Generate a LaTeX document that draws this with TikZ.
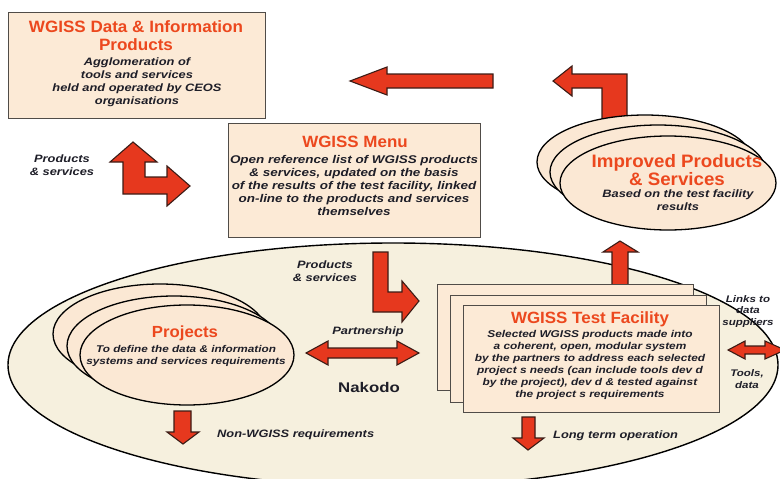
\documentclass[tikz,border=0pt]{standalone}
\usepackage{fontspec}
\setmainfont{Liberation Sans}
\newfontfamily\ttlfont{Liberation Sans}[FakeStretch=1.04]
\newfontfamily\bodyfont{Liberation Sans}[FakeStretch=1.2]

\definecolor{titlecol}{RGB}{236,72,30}
\definecolor{arrowred}{RGB}{230,56,30}
\definecolor{arrowedge}{RGB}{60,28,22}
\definecolor{panelfill}{RGB}{252,234,214}
\definecolor{paneledge}{RGB}{80,76,72}
\definecolor{ovalfill}{RGB}{251,232,212}
\definecolor{zonefill}{RGB}{246,240,222}
\definecolor{txtcol}{RGB}{30,30,40}

% text nodes are anchored on the baseline of their last line
\tikzset{
  ttl/.style={font={\ttlfont\bfseries\fontsize{#1}{18}\selectfont}, text=titlecol,
              align=center, inner sep=0pt, anchor=base},
  body/.style 2 args={font={\bodyfont\bfseries\itshape\fontsize{#1}{#2}\selectfont},
              text=txtcol, align=center, inner sep=0pt, anchor=base},
  blockarrow/.style={fill=arrowred, draw=arrowedge, line width=1.1pt, line join=miter},
  panel/.style={fill=panelfill, draw=paneledge, line width=0.9pt},
  oval/.style={fill=ovalfill, draw=black, line width=1.3pt},
  zone/.style={fill=zonefill, draw=black, line width=1.4pt},
}

\begin{document}
\begin{tikzpicture}[x=1pt,y=-1pt]
\useasboundingbox (0,0) rectangle (780,479);
\clip (0,0) rectangle (780,479);

% Nakodo zone
\draw[zone] (393,365) ellipse [x radius=385, y radius=122];

% arrows passing behind the improved products and the test facility
\draw[blockarrow] (553,81) -- (572,66) -- (572,74) -- (627,74) -- (627,140)
  -- (602,140) -- (602,88) -- (572,88) -- (572,96) -- cycle;
\draw[blockarrow] (612,292) -- (612,252) -- (603,252) -- (620,241) -- (638,252)
  -- (628,252) -- (628,292) -- cycle;

% improved products and services
\draw[oval] (645,162) ellipse [x radius=108, y radius=47];
\draw[oval] (658,172) ellipse [x radius=108, y radius=47];
\draw[oval] (668,183) ellipse [x radius=108, y radius=47];
\node[ttl=18] (impT) at (677,185) {Improved Products\\\& Services};
\node[body={10.7}{13}] (impB) at (678,210) {Based on the test facility\\results};

% test facility
\draw[panel] (437,284) rectangle (693,390);
\draw[panel] (450,295) rectangle (706,402);
\node[panel, minimum width=256pt, minimum height=107pt] (tf) at (591,358.5) {};
\node[ttl=16.3] (tfT) at (590,323) {WGISS Test Facility};
\node[body={9.9}{12}] (tfB) at (590,397) {Selected WGISS products made into\\
  a coherent, open, modular system\\
  by the partners to address each selected\\
  project s needs (can include tools dev d\\
  by the project), dev d \& tested against\\
  the project s requirements};

% projects
\draw[oval] (160,334) ellipse [x radius=107, y radius=50];
\draw[oval] (174,346) ellipse [x radius=107, y radius=50];
\draw[oval] (187,355) ellipse [x radius=107, y radius=50];
\node[ttl=16.1] (prT) at (185,337) {Projects};
\node[body={9.8}{12}] (prB) at (186,364) {To define the data \&  information\\
  systems and services requirements};

% data and information products
\node[panel, minimum width=257pt, minimum height=106pt] (dip) at (136.5,65) {};
\node[ttl=16.4] (dipT) at (136,50) {WGISS Data \& Information\\Products};
\node[body={10.7}{13}] (dipB) at (137,104) {Agglomeration of\\tools and services\\
  held and operated by CEOS\\organisations};

% menu
\node[panel, minimum width=252pt, minimum height=114pt] (menu) at (354,180) {};
\node[ttl=16.3] (menuT) at (355,147) {WGISS Menu};
\node[body={11.2}{13}] (menuB) at (354,215) {Open reference list of WGISS products\\
  \& services, updated on the basis\\
  of the results of the test facility, linked\\
  on-line to the products and services\\
  themselves};

% block arrows
\draw[blockarrow] (350,81) -- (387,67) -- (387,74) -- (493,74) -- (493,88)
  -- (387,88) -- (387,95) -- cycle;
\draw[blockarrow] (133,142) -- (157,162) -- (145,162) -- (145,177) -- (167,177)
  -- (167,166) -- (190,186) -- (167,206) -- (167,194) -- (123,194) -- (123,162)
  -- (110,162) -- cycle;
\draw[blockarrow] (373,252) -- (388,252) -- (388,292) -- (402,292) -- (402,281)
  -- (419,301) -- (402,322) -- (402,312) -- (373,312) -- cycle;
\draw[blockarrow] (306,353) -- (328,341) -- (328,348) -- (397,348) -- (397,341)
  -- (419,353) -- (397,365) -- (397,358) -- (328,358) -- (328,365) -- cycle;
\draw[blockarrow] (174,411) -- (191,411) -- (191,432) -- (199,432) -- (183,444)
  -- (167,432) -- (174,432) -- cycle;
\draw[blockarrow] (522,417) -- (535,417) -- (535,438) -- (544,438) -- (528,450)
  -- (513,438) -- (522,438) -- cycle;
\draw[blockarrow] (728,350) -- (745,341) -- (745,346) -- (765,346) -- (765,341)
  -- (785,350) -- (765,359) -- (765,354) -- (745,354) -- (745,359) -- cycle;

% labels
\node[body={10.7}{13}] (ps1) at (62,175) {Products\\\& services};
\node[body={10.7}{13}] (ps2) at (325,281) {Products\\\& services};
\node[body={10.7}{13}] (part) at (368,334) {Partnership};
\node[font={\bodyfont\bfseries\fontsize{14}{16}\selectfont}, text=txtcol,
      inner sep=0pt, anchor=base] (nak) at (369,392) {Nakodo};
\node[body={10.7}{13}, anchor=base west] (nonw) at (217,437) {Non-WGISS requirements};
\node[body={10.7}{13}, anchor=base west] (lto) at (553,438) {Long term operation};
\node[body={9.6}{11.5}] (links) at (748,325) {Links to\\data\\suppliers};
\node[body={9.6}{11.5}] (tools) at (747,388) {Tools,\\data};
\end{tikzpicture}
\end{document}
